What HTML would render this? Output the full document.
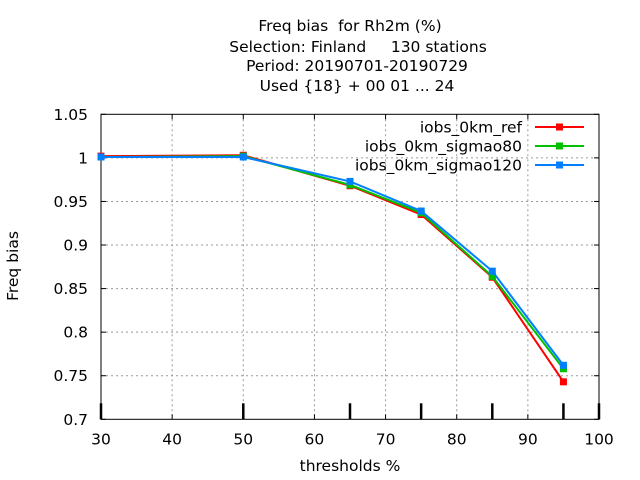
<!DOCTYPE html>
<html><head><meta charset="utf-8"><style>
body{margin:0;background:#fff}
svg{display:block;font-family:"DejaVu Sans","Liberation Sans",sans-serif}
text{white-space:pre}
</style></head><body>
<svg id="chart" width="640" height="480" viewBox="0 0 640 480">
<g font-size="15.5" fill="#000" text-anchor="middle">
<text x="350" y="31" xml:space="preserve">Freq bias  for Rh2m (%)</text>
<text x="358" y="52" xml:space="preserve">Selection: Finland     130 stations</text>
<text x="357" y="71">Period: 20190701-20190729</text>
<text x="357" y="91">Used {18} + 00 01 ... 24</text>
</g>
<g id="grid"></g>
<g id="axes"></g>
<g id="series"></g>
<text x="18" y="266" font-size="15.5" text-anchor="middle" transform="rotate(-90 18 266)">Freq bias</text>
<text x="350" y="471" font-size="15.5" text-anchor="middle">thresholds %</text>
<g id="legend"></g>
</svg>
<script>
const xTicks=[30,40,50,60,70,80,90,100];
const yTicks=[0.7,0.75,0.8,0.85,0.9,0.95,1,1.05];
const yTickLabels=["0.7","0.75","0.8","0.85","0.9","0.95","1","1.05"];
const thresholds=[30,50,65,75,85,95];
const seriesNames=["iobs_0km_ref","iobs_0km_sigmao80","iobs_0km_sigmao120"];
const refValues=[1.002,1.003,0.968,0.935,0.863,0.743];
const sigmao80Values=[1.001,1.002,0.969,0.937,0.864,0.758];
const sigmao120Values=[1.001,1.001,0.973,0.939,0.870,0.762];
const colors=["#ff0000","#00c000","#0080ff"];
const NS="http://www.w3.org/2000/svg";
const L=101,R=599,T=114.3,B=419.3;
const xs=v=>L+(v-30)/70*(R-L);
const ys=v=>B-(v-0.7)/0.35*(B-T);
function mk(p,tag,a){const e=document.createElementNS(NS,tag);for(const k in a)e.setAttribute(k,a[k]);p.appendChild(e);return e;}
const grid=document.getElementById('grid'),axes=document.getElementById('axes'),ser=document.getElementById('series'),leg=document.getElementById('legend');
xTicks.forEach(v=>{
 if(v>30&&v<100){const g=mk(grid,'line',{x1:xs(v),x2:xs(v),y1:T,y2:B,stroke:'#999','stroke-dasharray':'2,3'});
 
 }
 mk(axes,'line',{x1:xs(v),x2:xs(v),y1:B,y2:B-5,stroke:'#000'});
 mk(axes,'line',{x1:xs(v),x2:xs(v),y1:T,y2:T+5,stroke:'#000'});
 const t=mk(axes,'text',{x:xs(v),y:B+25,'font-size':15.5,'text-anchor':'middle'});t.textContent=v;
 
 
});
yTicks.forEach((v,i)=>{
 if(v>0.7&&v<1.05){const g=mk(grid,'line',{x1:L,x2:R,y1:ys(v),y2:ys(v),stroke:'#999','stroke-dasharray':'2,3'});
 
 }
 mk(axes,'line',{x1:L,x2:L+5,y1:ys(v),y2:ys(v),stroke:'#000'});
 mk(axes,'line',{x1:R,x2:R-5,y1:ys(v),y2:ys(v),stroke:'#000'});
 const t=mk(axes,'text',{x:L-13,y:ys(v)+5.5,'font-size':15.5,'text-anchor':'end'});t.textContent=yTickLabels[i];
 
 
});
thresholds.concat([100]).forEach(v=>{mk(axes,'line',{x1:xs(v),x2:xs(v),y1:B,y2:B-16,stroke:'#000','stroke-width':2.5});});
mk(axes,'rect',{x:L,y:T,width:R-L,height:B-T,fill:'none',stroke:'#000'});
[refValues,sigmao80Values,sigmao120Values].forEach((vals,si)=>{
 const p=mk(ser,'polyline',{points:thresholds.map((x,i)=>xs(x)+','+ys(vals[i])).join(' '),fill:'none',stroke:colors[si],'stroke-width':2});
 
 
 thresholds.forEach((x,i)=>{const r=mk(ser,'rect',{x:xs(x)-3.5,y:ys(vals[i])-3.5,width:7,height:7,fill:colors[si]});
 
 });
 const y=127+si*19;
 const t=mk(leg,'text',{x:522,y:y+5.5,'font-size':15.5,'text-anchor':'end'});t.textContent=seriesNames[si];
 
 
 mk(leg,'line',{x1:535,x2:584,y1:y,y2:y,stroke:colors[si],'stroke-width':2});
 mk(leg,'rect',{x:556,y:y-3.5,width:7,height:7,fill:colors[si]});
});
</script>
</body></html>
